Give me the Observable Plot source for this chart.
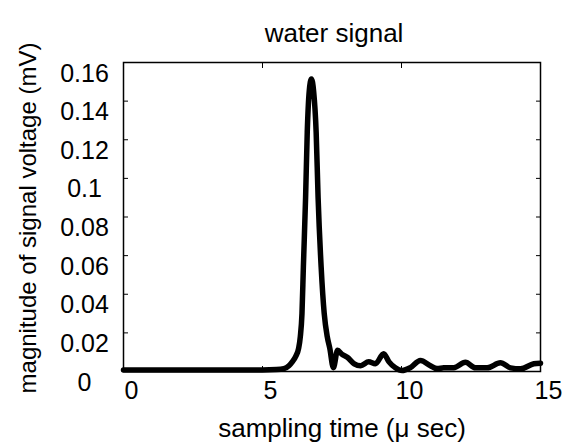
<!DOCTYPE html>
<html>
<head>
<meta charset="utf-8">
<script src="https://cdn.jsdelivr.net/npm/d3@7"></script>
<script src="https://cdn.jsdelivr.net/npm/@observablehq/plot@0.6"></script>
<style>
  html, body { margin: 0; padding: 0; background: #fff; }
  #chart { width: 572px; height: 444px; }
</style>
</head>
<body>
<div id="chart"></div>
<script>
const titleText = "water signal";
const xLabel = "sampling time (\u03bc sec)";
const yLabel = "magnitude of signal voltage (mV)";

const xTicks = [0, 5, 10, 15];
const yTicks = [0, 0.02, 0.04, 0.06, 0.08, 0.1, 0.12, 0.14, 0.16];

const timeUs = [0, 1, 2, 3, 4, 5, 5.5, 5.77, 5.95, 6.07, 6.2, 6.3, 6.36, 6.42, 6.47, 6.55, 6.61, 6.68, 6.76, 6.84, 6.93, 7.0, 7.11, 7.22, 7.33, 7.42, 7.55, 7.7, 7.85, 8.05, 8.3, 8.53, 8.82, 9.06, 9.36, 9.55, 9.78, 10.02, 10.32, 10.68, 11.04, 11.28, 11.52, 11.88, 12.3, 12.66, 13.08, 13.56, 13.92, 14.28, 14.76, 15];
const voltage = [0.0008, 0.0008, 0.0008, 0.0008, 0.0008, 0.0008, 0.001, 0.0015, 0.003, 0.005, 0.008, 0.012, 0.018, 0.03, 0.054, 0.09, 0.124, 0.145, 0.1515, 0.145, 0.124, 0.09, 0.054, 0.03, 0.018, 0.012, 0.002, 0.011, 0.009, 0.0074, 0.004, 0.003, 0.005, 0.004, 0.0092, 0.005, 0.0019, 0.0005, 0.002, 0.0057, 0.003, 0.0015, 0.0019, 0.002, 0.0048, 0.0019, 0.0019, 0.0045, 0.0019, 0.0014, 0.004, 0.0043];

const signal = timeUs.map((t, i) => ({t, v: voltage[i]}));
const fmtY = d => String(+d.toFixed(2));

const chart = Plot.plot({
  width: 572,
  height: 444,
  marginLeft: 123,
  marginRight: 32,
  marginTop: 62,
  marginBottom: 73,
  style: {fontFamily: "'Liberation Sans', Arial, sans-serif", fontSize: "24px", color: "#000", background: "#fff"},
  x: {domain: [0, 15]},
  y: {domain: [0, 0.16]},
  marks: [
    Plot.line(signal, {x: "t", y: "v", stroke: "#000", strokeWidth: 5.5, curve: "monotone-x", strokeLinejoin: "round", strokeLinecap: "round"}),
    Plot.frame({stroke: "#000", strokeWidth: 1.5}),
    Plot.axisY(yTicks, {anchor: "left", tickSize: -5, fill: "none", label: null}),
    Plot.axisY(yTicks, {anchor: "right", tickSize: -5, fill: "none", label: null}),
    Plot.axisX(xTicks, {anchor: "top", tickSize: -5, fill: "none", label: null}),
    Plot.axisX(xTicks, {anchor: "bottom", tickSize: -5, fill: "none", label: null}),
    Plot.axisY(yTicks, {anchor: "left", tickSize: 0, tickPadding: 39, textAnchor: "middle", dy: 11, tickFormat: fmtY, label: null, fontSize: 25}),
    Plot.axisX(xTicks, {anchor: "bottom", tickSize: 0, tickPadding: 10, dx: 8, tickFormat: d => String(d), label: null, fontSize: 25}),
    Plot.text([titleText], {frameAnchor: "top", lineAnchor: "middle", textAnchor: "middle", dy: -29, dx: 2, fontSize: 26, text: d => d}),
    Plot.text([xLabel], {frameAnchor: "bottom", lineAnchor: "middle", textAnchor: "middle", dy: 57, dx: 10, fontSize: 26, text: d => d}),
    Plot.text([yLabel], {frameAnchor: "left", lineAnchor: "middle", textAnchor: "middle", dx: -95, dy: 1, rotate: -90, fontSize: 24, text: d => d})
  ]
});
document.getElementById("chart").appendChild(chart);
</script>
</body>
</html>
